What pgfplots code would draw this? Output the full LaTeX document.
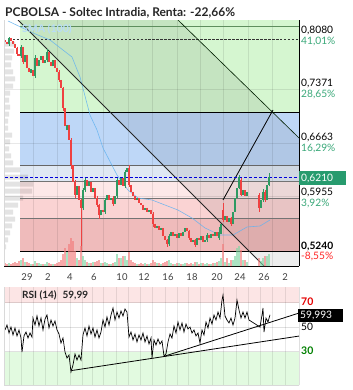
\documentclass[border=0pt]{standalone}
\usepackage{pgfplots}
\pgfplotsset{compat=1.18}
\usepackage{fontspec}
\setmainfont{Lato}
\definecolor{cred}{HTML}{EF4141}
\definecolor{cgreen}{HTML}{2E9A62}
\definecolor{vred}{HTML}{F37C7C}
\definecolor{vgreen}{HTML}{7FD6A3}
\definecolor{zgreen}{HTML}{D5F6D0}
\definecolor{zblue}{HTML}{BED7F7}
\definecolor{zlblue}{HTML}{DFE8F3}
\definecolor{zpinka}{HTML}{FDE8E8}
\definecolor{zpinkb}{HTML}{FAD3D3}
\definecolor{zpinkc}{HTML}{EFBBBB}
\definecolor{smablue}{HTML}{62B2F0}
\definecolor{pctgreen}{HTML}{3BA97A}
\definecolor{boxgreen}{HTML}{279B6E}
\definecolor{rsipink}{HTML}{FCE5E5}
\definecolor{rsigreen}{HTML}{E2FAE0}
\definecolor{hlgreen}{HTML}{5E8E5E}
\begin{document}
\begin{tikzpicture}[x=1bp,y=1bp]
\useasboundingbox (0,0) rectangle (353,-390);
\fill[white] (0,0) rectangle (353,-390);
%================ MAIN PRICE PANEL =================
\begin{axis}[at={(4bp,-266bp)}, anchor=south west, scale only axis,
  width=295bp, height=246bp,
  xmin=4, xmax=299, ymin=0.50427, ymax=0.82787,
  axis x line*=bottom, axis y line*=right,
  axis line style={black, line width=0.8pt},
  ytick=\empty,
  xtick={27,48,70,94,122,144,168,192,217,240,264,285},
  xticklabels={29,2,4,6,10,12,16,18,20,24,26,2},
  major tick length=0pt,
  xticklabel style={anchor=center, yshift=-11bp, font=\fontsize{9.5bp}{11bp}\selectfont, text=black!75},
  unbounded coords=jump]
% Fibonacci zones
\addplot[draw=none, fill=zgreen] coordinates {(20,0.7069) (299,0.7069) (299,0.82787) (20,0.82787)} -- cycle;
\addplot[draw=none, fill=zblue] coordinates {(20,0.6370) (299,0.6370) (299,0.7069) (20,0.7069)} -- cycle;
\addplot[draw=none, fill=zlblue] coordinates {(20,0.6154) (299,0.6154) (299,0.6370) (20,0.6370)} -- cycle;
\addplot[draw=none, fill=zpinka] coordinates {(20,0.5939) (299,0.5939) (299,0.6154) (20,0.6154)} -- cycle;
\addplot[draw=none, fill=zpinkb] coordinates {(20,0.5672) (299,0.5672) (299,0.5939) (20,0.5939)} -- cycle;
\addplot[draw=none, fill=zpinkc] coordinates {(20,0.5240) (299,0.5240) (299,0.5672) (20,0.5672)} -- cycle;
% channel overlay
\addplot[draw=none, fill=black, fill opacity=0.07] coordinates {(18,0.82787) (178,0.82787) (299,0.6727) (299,0.50427) (264,0.50427)} -- cycle;
% volume profile
\addplot[xbar, bar width=5bp, draw=none, fill=black, fill opacity=0.11] coordinates {
(15,0.7963) (14,0.7871) (12,0.7779) (11,0.7687) (13,0.7595) (15,0.7503) (13,0.7410) (10,0.7318)
(9,0.7226) (10,0.7134) (9,0.7042) (8,0.6950) (8,0.6858) (12,0.6766) (10,0.6674) (9,0.6582)
(11,0.6490) (13,0.6398) (20,0.6306) (28,0.6213) (33,0.6121) (32,0.6029) (23,0.5937) (18,0.5845)
(13,0.5753) (15,0.5661) (12,0.5569) (10,0.5477) (8,0.5385) (6,0.5293)};
% grid
\pgfplotsinvokeforeach{33,57,82,103,128,152,177,200,223,248,272}{
  \draw[black, draw opacity=0.09, line width=0.6pt] (axis cs:#1,0.50427) -- (axis cs:#1,0.82787);}
\pgfplotsinvokeforeach{0.7371,0.6663,0.5955}{
  \draw[black, draw opacity=0.09, line width=0.6pt] (axis cs:4,#1) -- (axis cs:299,#1);}
% level lines
\addplot[black, line width=0.8pt] coordinates {(20,0.7069) (299,0.7069)};
\addplot[black!60, line width=0.7pt] coordinates {(20,0.6370) (299,0.6370)};
\addplot[black!55, line width=0.7pt] coordinates {(20,0.6154) (299,0.6154)};
\addplot[black!55, line width=0.7pt] coordinates {(20,0.5939) (299,0.5939)};
\addplot[black!55, line width=0.7pt] coordinates {(20,0.5672) (299,0.5672)};
\addplot[black, line width=0.9pt] coordinates {(20,0.5240) (299,0.5240)};
\addplot[hlgreen, line width=0.7pt] coordinates {(20,0.8200) (299,0.8200)};
\addplot[black!80, line width=0.6pt, dash pattern=on 2.5pt off 1.5pt] coordinates {(13,0.8029) (299,0.8029)};
% SMA 100
\addplot[smablue, line width=0.6pt, opacity=0.85] coordinates {
(8,0.8266) (33,0.8108) (50,0.8016) (72,0.7792) (80,0.7529) (90,0.7029) (97,0.6832) (103,0.6595)
(117,0.6240) (128,0.6042) (138,0.5937) (152,0.5911) (165,0.5845) (178,0.5779) (192,0.5674)
(205,0.5543) (220,0.5450) (233,0.5450) (247,0.5556) (260,0.5569) (270,0.5648)};
% trend lines
\addplot[black!85, line width=0.8pt] coordinates {(18,0.82787) (264,0.50427)};
\addplot[black!70!green!40!black, line width=0.6pt] coordinates {(178,0.82787) (299,0.6727)};
\addplot[black, line width=0.8pt] coordinates {(223,0.5911) (273,0.7095)};
% current price
\addplot[blue!85!black, line width=0.8pt, dash pattern=on 3pt off 2pt] coordinates {(5,0.6210) (299,0.6210)};
% wicks
\addplot[cred, line width=0.4pt] coordinates {
(17,0.793)(17,0.781)(17,nan) (23,0.793)(23,0.770)(23,nan) (59,0.762)(59,0.746)(59,nan)
(63,0.740)(63,0.708)(63,nan) (71,0.672)(71,0.632)(71,nan) (75,0.617)(75,0.594)(75,nan)
(81,0.592)(81,0.524)(81,nan) (97,0.597)(97,0.582)(97,nan) (99,0.586)(99,0.566)(99,nan)
(113,0.596)(113,0.583)(113,nan) (129,0.637)(129,0.608)(129,nan) (153,0.575)(153,0.555)(153,nan)
(167,0.540)(167,0.529)(167,nan) (189,0.552)(189,0.538)(189,nan) (195,0.540)(195,0.529)(195,nan)
(223,0.587)(223,0.562)(223,nan) (231,0.569)(231,0.557)(231,nan) (241,0.620)(241,0.596)(241,nan)
(259,0.600)(259,0.575)(259,nan) (265,0.604)(265,0.588)};
\addplot[cgreen, line width=0.4pt] coordinates {
(9,0.794)(9,0.806)(9,nan) (21,0.778)(21,0.795)(21,nan) (35,0.752)(35,0.782)(35,nan)
(47,0.772)(47,0.790)(47,nan) (83,0.578)(83,0.607)(83,nan) (85,0.602)(85,0.620)(85,nan)
(105,0.573)(105,0.594)(105,nan) (117,0.594)(117,0.620)(117,nan) (125,0.607)(125,0.631)(125,nan)
(169,0.530)(169,0.546)(169,nan) (207,0.536)(207,0.548)(207,nan) (219,0.539)(219,0.556)(219,nan)
(239,0.605)(239,0.624)(239,nan) (263,0.589)(263,0.605)(263,nan) (269,0.609)(269,0.626)};
% candle bodies (open, close)
\addplot[cred, line width=1.4pt] coordinates {
(5,0.801)(5,0.799)(5,nan) (7,0.799)(7,0.796)(7,nan) (11,0.804)(11,0.800)(11,nan)
(13,0.800)(13,0.796)(13,nan) (15,0.796)(15,0.791)(15,nan) (17,0.791)(17,0.783)(17,nan)
(19,0.783)(19,0.781)(19,nan) (23,0.792)(23,0.773)(23,nan) (27,0.782)(27,0.765)(27,nan)
(29,0.765)(29,0.760)(29,nan) (33,0.762)(33,0.754)(33,nan) (37,0.778)(37,0.767)(37,nan)
(43,0.781)(43,0.771)(43,nan) (49,0.786)(49,0.773)(49,nan) (51,0.773)(51,0.767)(51,nan)
(55,0.775)(55,0.765)(55,nan) (57,0.765)(57,0.760)(57,nan) (59,0.760)(59,0.749)(59,nan)
(61,0.749)(61,0.738)(61,nan) (63,0.738)(63,0.712)(63,nan) (65,0.712)(65,0.688)(65,nan)
(69,0.690)(69,0.670)(69,nan) (71,0.670)(71,0.637)(71,nan) (73,0.637)(73,0.615)(73,nan)
(75,0.615)(75,0.598)(75,nan) (79,0.610)(79,0.591)(79,nan) (81,0.591)(81,0.581)(81,nan)
(87,0.617)(87,0.610)(87,nan) (91,0.615)(91,0.602)(91,nan) (95,0.607)(95,0.594)(95,nan)
(97,0.594)(97,0.585)(97,nan) (99,0.585)(99,0.571)(99,nan) (103,0.578)(103,0.575)(103,nan)
(109,0.598)(109,0.591)(109,nan) (113,0.594)(113,0.586)(113,nan) (119,0.617)(119,0.611)(119,nan)
(123,0.620)(123,0.610)(123,nan) (129,0.633)(129,0.611)(129,nan) (131,0.611)(131,0.602)(131,nan)
(133,0.602)(133,0.596)(133,nan) (135,0.596)(135,0.591)(135,nan) (139,0.594)(139,0.587)(139,nan)
(141,0.587)(141,0.585)(141,nan) (143,0.585)(143,0.578)(143,nan) (147,0.581)(147,0.575)(147,nan)
(151,0.578)(151,0.573)(151,nan) (153,0.573)(153,0.560)(153,nan) (155,0.560)(155,0.554)(155,nan)
(159,0.557)(159,0.552)(159,nan) (163,0.554)(163,0.544)(163,nan) (165,0.544)(165,0.538)(165,nan)
(167,0.538)(167,0.533)(167,nan) (173,0.549)(173,0.544)(173,nan) (177,0.546)(177,0.541)(177,nan)
(181,0.548)(181,0.544)(181,nan) (187,0.554)(187,0.550)(187,nan) (189,0.550)(189,0.541)(189,nan)
(191,0.541)(191,0.536)(191,nan) (195,0.538)(195,0.532)(195,nan) (199,0.541)(199,0.538)(199,nan)
(203,0.544)(203,0.536)(203,nan) (209,0.545)(209,0.541)(209,nan) (213,0.546)(213,0.544)(213,nan)
(217,0.549)(217,0.544)(217,nan) (223,0.578)(223,0.565)(223,nan) (227,0.570)(227,0.562)(227,nan)
(231,0.567)(231,0.560)(231,nan) (241,0.618)(241,0.598)(241,nan) (245,0.604)(245,0.596)(245,nan)
(259,0.598)(259,0.581)(259,nan) (265,0.602)(265,0.591)};
\addplot[cgreen, line width=1.4pt] coordinates {
(9,0.796)(9,0.804)(9,nan) (21,0.781)(21,0.792)(21,nan) (25,0.773)(25,0.782)(25,nan)
(31,0.758)(31,0.764)(31,nan) (35,0.754)(35,0.778)(35,nan) (39,0.767)(39,0.775)(39,nan)
(41,0.775)(41,0.781)(41,nan) (45,0.771)(45,0.775)(45,nan) (47,0.775)(47,0.786)(47,nan)
(53,0.767)(53,0.775)(53,nan) (67,0.683)(67,0.690)(67,nan) (77,0.598)(77,0.610)(77,nan)
(83,0.581)(83,0.604)(83,nan) (85,0.604)(85,0.617)(85,nan) (89,0.610)(89,0.615)(89,nan)
(93,0.602)(93,0.607)(93,nan) (101,0.571)(101,0.578)(101,nan) (105,0.575)(105,0.591)(105,nan)
(107,0.591)(107,0.598)(107,nan) (111,0.591)(111,0.594)(111,nan) (115,0.586)(115,0.596)(115,nan)
(117,0.596)(117,0.617)(117,nan) (121,0.611)(121,0.620)(121,nan) (125,0.610)(125,0.628)(125,nan)
(127,0.628)(127,0.633)(127,nan) (137,0.591)(137,0.594)(137,nan) (145,0.578)(145,0.581)(145,nan)
(149,0.575)(149,0.578)(149,nan) (157,0.554)(157,0.557)(157,nan) (161,0.552)(161,0.554)(161,nan)
(169,0.533)(169,0.544)(169,nan) (171,0.544)(171,0.549)(171,nan) (175,0.544)(175,0.546)(175,nan)
(179,0.541)(179,0.548)(179,nan) (183,0.544)(183,0.549)(183,nan) (185,0.549)(185,0.554)(185,nan)
(193,0.536)(193,0.538)(193,nan) (197,0.532)(197,0.541)(197,nan) (201,0.538)(201,0.544)(201,nan)
(205,0.536)(205,0.538)(205,nan) (207,0.538)(207,0.545)(207,nan) (211,0.541)(211,0.546)(211,nan)
(215,0.544)(215,0.549)(215,nan) (219,0.541)(219,0.549)(219,nan) (221,0.547)(221,0.560)(221,nan)
(225,0.565)(225,0.570)(225,nan) (229,0.562)(229,0.567)(229,nan) (233,0.560)(233,0.575)(233,nan)
(235,0.575)(235,0.594)(235,nan) (237,0.594)(237,0.607)(237,nan) (239,0.607)(239,0.621)(239,nan)
(243,0.598)(243,0.604)(243,nan) (247,0.596)(247,0.602)(247,nan) (261,0.581)(261,0.591)(261,nan)
(263,0.591)(263,0.602)(263,nan) (267,0.591)(267,0.611)(267,nan) (269,0.611)(269,0.621)};
\end{axis}
%================ VOLUME =================
\begin{axis}[at={(4bp,-266bp)}, anchor=south west, scale only axis,
  width=295bp, height=246bp, xmin=4, xmax=299, ymin=0, ymax=246, hide axis]
\addplot[ybar, bar width=1.4bp, draw=none, fill=vred] coordinates {
(5,3) (7,2) (11,2) (13,3) (15,4) (17,3) (19,5) (23,8) (27,4) (29,3) (33,2) (37,3) (43,2) (49,3)
(51,2) (55,2) (57,3) (59,4) (61,6) (63,12) (65,18) (69,22) (71,28) (73,25) (75,15) (79,6) (81,20)
(87,4) (91,3) (95,4) (97,5) (99,6) (103,3) (109,2) (113,3) (119,8) (123,10) (129,14) (131,6)
(133,4) (135,3) (139,2) (141,3) (143,2) (147,2) (151,3) (153,6) (155,4) (159,3) (163,3) (165,4)
(167,5) (173,2) (177,3) (181,2) (187,3) (189,2) (191,3) (195,4) (199,2) (203,3) (209,2) (213,3)
(217,4) (223,22) (227,8) (231,6) (241,16) (245,6) (259,8) (265,10)};
\addplot[ybar, bar width=1.4bp, draw=none, fill=vgreen] coordinates {
(9,3) (21,6) (25,4) (31,2) (35,5) (39,3) (41,2) (45,2) (47,4) (53,2) (67,14) (77,8) (83,10) (85,6)
(89,3) (93,4) (101,3) (105,4) (107,3) (111,2) (115,4) (117,12) (121,8) (125,10) (127,6) (137,2)
(145,3) (149,2) (157,3) (161,2) (169,6) (171,3) (175,2) (179,3) (183,2) (185,3) (193,2) (197,4)
(201,3) (205,2) (207,3) (211,2) (215,3) (219,5) (221,8) (225,4) (229,3) (233,6) (235,10) (237,18)
(239,20) (243,6) (247,4) (261,5) (263,8) (267,10) (269,12)};
\end{axis}
%================ RSI PANEL =================
\begin{axis}[at={(4bp,-385bp)}, anchor=south west, scale only axis,
  width=295bp, height=98bp, xmin=4, xmax=299, ymin=2.65, ymax=82.65,
  axis lines=none, ticks=none]
\addplot[draw=none, fill=rsipink] coordinates {(4,70) (299,70) (299,82.65) (4,82.65)} -- cycle;
\addplot[draw=none, fill=rsigreen] coordinates {(4,2.65) (299,2.65) (299,30) (4,30)} -- cycle;
\pgfplotsinvokeforeach{9,21,33,45,57,70,82,92,103,116,128,140,152,165,177,188,200,212,223,236,248,260,272,285}{
  \draw[black, draw opacity=0.09, line width=0.6pt] (axis cs:#1,2.65) -- (axis cs:#1,82.65);}
\pgfplotsinvokeforeach{70,50,30}{
  \draw[black, draw opacity=0.12, line width=0.6pt] (axis cs:4,#1) -- (axis cs:299,#1);}
\addplot[black, line width=0.7pt] coordinates {
(5,47.6) (7,51.6) (9,45.1) (11,50.0) (13,43.5) (15,49.2) (17,42.7) (19,47.6) (21,41.0) (22,29.6)
(24,42.7) (26,45.9) (28,41.0) (30,45.1) (32,41.8) (33,57.3) (35,51.6) (37,59.0) (39,50.8) (41,57.3)
(43,47.6) (45,56.5) (47,59.8) (49,49.2) (51,55.7) (53,50.8) (55,54.9) (57,47.6) (59,44.3) (61,36.9)
(63,41.0) (65,29.6) (67,24.7) (69,27.1) (71,13.3) (73,19.0) (75,28.0) (77,23.1) (79,27.1) (81,23.1)
(83,43.5) (85,49.2) (87,42.7) (89,50.8) (91,44.3) (93,49.2) (95,41.8) (97,47.6) (99,41.0) (101,45.9)
(103,55.7) (105,50.0) (107,58.2) (109,51.6) (111,59.8) (113,65.5) (115,55.7) (117,62.2) (119,57.3)
(121,63.1) (123,59.0) (125,64.7) (127,62.2) (129,41.8) (131,45.9) (133,39.4) (135,44.3) (137,37.8)
(139,43.5) (141,39.4) (143,45.1) (145,37.8) (147,42.7) (149,36.1) (151,41.0) (152,24.7) (154,39.4)
(156,35.3) (158,40.2) (160,36.1) (162,38.6) (164,26.3) (166,28.0) (168,37.8) (170,44.3) (172,41.0)
(174,50.8) (176,45.1) (178,54.1) (180,47.6) (182,53.3) (184,45.9) (186,52.4) (188,48.4) (190,50.0)
(192,45.1) (194,47.6) (196,42.7) (198,45.1) (200,36.9) (202,47.6) (204,43.5) (206,54.1) (208,49.2)
(210,57.3) (212,52.4) (214,59.8) (216,55.7) (218,62.2) (220,57.3) (222,72.0) (223,76.1) (225,59.0)
(227,55.7) (229,53.3) (231,57.3) (233,51.6) (235,57.3) (237,72.0) (239,63.9) (241,57.3) (243,62.2)
(245,57.3) (247,62.2) (249,55.7) (260,50.0) (262,59.8) (263,65.5) (264,45.9) (266,57.3) (268,54.1)
(270,59.99)};
\addplot[black, line width=0.8pt] coordinates {(72,14.5) (299,42.6)};
\addplot[black, line width=0.8pt] coordinates {(165,26.3) (299,61.4)};
\draw[black, line width=0.8pt] (axis cs:299,2.65) -- (axis cs:299,82.65);
\end{axis}
%================ TEXT =================
\draw[black!15, line width=0.6pt] (4.5,-20) -- (4.5,-266);
\draw[black!15, line width=0.6pt] (4.5,-287) -- (4.5,-385) -- (299,-385);
\node[anchor=base west, inner sep=0pt, font=\fontsize{12bp}{14bp}\selectfont\bfseries, text=black!85] at (5,-16) {PCBOLSA - Soltec Intradia, Renta: -22,66\%};
\node[anchor=west, inner sep=0pt, font=\fontsize{10.5bp}{12bp}\selectfont\bfseries, text=smablue!45] at (22,-29) {SMA (100)};
\begin{scope}[every node/.style={anchor=west, inner sep=0pt, font=\fontsize{10.2bp}{12bp}\selectfont}]
\node at (301,-30) {0,8080};
\node[text=pctgreen] at (301,-41) {41,01\%};
\node at (301,-83) {0,7371};
\node[text=pctgreen] at (301,-94) {28,65\%};
\node at (301,-137) {0,6663};
\node[text=pctgreen] at (301,-148) {16,29\%};
\node at (301,-192) {0,5955};
\node[text=pctgreen] at (301,-203) {3,92\%};
\node[font=\fontsize{10.2bp}{12bp}\selectfont\bfseries] at (301,-246) {0,5240};
\node[text=red!85!white] at (301,-256.5) {-8,55\%};
\node[text=red!90!black, font=\fontsize{10.5bp}{12bp}\selectfont\bfseries] at (301,-302) {70};
\node at (301,-327) {50};
\node[text=green!50!black, font=\fontsize{10.5bp}{12bp}\selectfont\bfseries] at (301,-351) {30};
\end{scope}
\fill[boxgreen] (299,-171) rectangle (346,-185);
\node[anchor=west, inner sep=0pt, text=white, font=\fontsize{10.2bp}{12bp}\selectfont] at (301,-178) {0,6210};
\fill[black] (298,-308.5) rectangle (343,-321.5);
\node[anchor=west, inner sep=0pt, text=white, font=\fontsize{10.2bp}{12bp}\selectfont] at (300,-315) {59,993};
\node[anchor=west, inner sep=0pt, font=\fontsize{10bp}{12bp}\selectfont\bfseries, text=black!85] at (22,-295) {RSI (14)\hspace{6bp}59,99};
\end{tikzpicture}
\end{document}
